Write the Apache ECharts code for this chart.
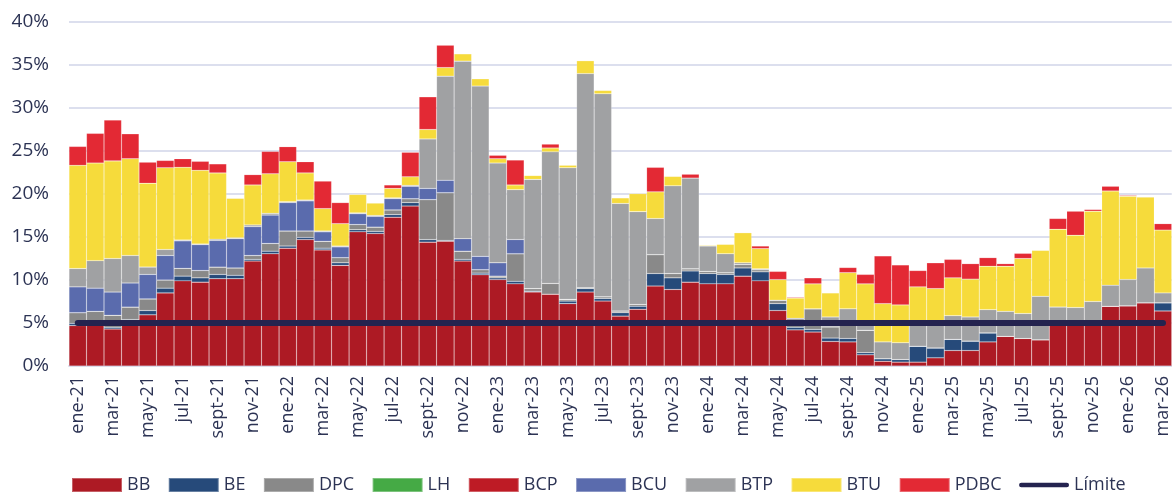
<!DOCTYPE html>
<html>
<head>
<meta charset="utf-8">
<script src="https://cdn.jsdelivr.net/npm/echarts@6/dist/echarts.min.js"></script>
<style>
html,body{margin:0;padding:0;background:#fff;}
#chart{width:1172px;height:493px;}
</style>
</head>
<body>
<div id="chart"></div>
<script>
// Categories (monthly, ene-21 .. mar-26)
const monthNames = ['ene','feb','mar','abr','may','jun','jul','ago','sept','oct','nov','dic'];
const years = ['21','22','23','24','25','26'];
const categories = [];
for (const y of years) { for (const m of monthNames) { categories.push(m + '-' + y); } }
categories.length = 63;

// Series values (% )
const BB = [4.7,4.85,4.3,5.2,5.95,8.5,9.9,9.75,10.15,10.15,12.2,13.05,
  13.7,14.7,13.5,11.7,15.6,15.4,17.3,18.6,14.4,14.5,12.2,10.6,
  10.05,9.55,8.6,8.35,7.25,8.6,7.55,5.8,6.6,9.3,8.9,9.75,
  9.55,9.55,10.45,9.9,6.45,4.2,3.95,2.85,2.8,1.3,0.55,0.45,
  0.45,0.95,1.8,1.8,2.8,3.45,3.2,3.05,5.0,5.0,5.0,6.95,
  7.0,7.35,6.4];
const BE = [0.25,0.15,0.2,0.2,0.5,0.55,0.55,0.5,0.5,0.4,0.2,0.3,
  0.25,0.25,0.2,0.3,0.25,0.25,0.3,0.4,0.3,0.1,0.2,0.2,
  0.2,0.3,0.1,0,0.3,0.4,0.3,0.4,0.35,1.45,1.35,1.3,
  1.2,1.1,0.95,1.05,0.8,0.3,0.3,0.4,0.4,0.25,0.3,0.3,
  1.85,1.15,1.3,1.1,1.05,0,0,0,0,0,0,0,
  0,0,0.95];
const DPC = [1.25,1.35,1.4,1.45,1.35,0.95,0.9,0.85,0.85,0.85,0.45,0.9,
  1.75,0.75,0.8,0.6,0.6,0.5,0.55,0.45,4.65,5.55,0.95,0.4,
  0.2,3.2,0.3,1.25,0.2,0.1,0.2,0.2,0.2,2.2,0.5,0.25,
  0.25,0.2,0.4,0.25,0.4,0.7,2.4,1.3,1.8,2.6,0,0,
  0,0,0,0,0,0,0,0,0,0,0,0,
  0,0,0];
const LH = [0,0,0,0,0,0,0,0,0,0,0,0,
  0,0,0,0,0,0,0,0,0,0,0,0,
  0,0,0,0,0,0,0,0,0,0,0,0,
  0,0,0,0,0,0,0,0,0,0,0,0,
  0,0,0,0,0,0,0,0,0,0,0,0,
  0,0,0];
const BCP = [0,0,0,0,0,0,0,0,0,0,0,0,
  0,0,0,0,0,0,0,0,0,0,0,0,
  0,0,0,0,0,0,0,0,0,0,0,0,
  0,0,0,0,0,0,0,0,0,0,0,0,
  0,0,0,0,0,0,0,0,0,0,0,0,
  0,0,0];
const BCU = [3.0,2.7,2.7,2.8,2.85,2.85,3.2,3.0,3.1,3.4,3.35,3.3,
  3.3,3.5,1.1,1.25,1.25,1.25,1.3,1.45,1.3,1.45,1.45,1.55,
  1.55,1.65,0,0,0,0,0,0,0,0,0,0,
  0,0,0,0,0,0,0,0,0,0,0,0,
  0,0,0,0,0,0,0,0,0,0,0,0,
  0,0,0];
const BTP = [2.13,3.2,3.9,3.2,0.85,0.7,0.1,0.1,0.15,0.1,0.2,0.2,
  0.1,0.1,0.1,0.1,0.1,0.1,0.1,0.1,5.75,12.1,20.65,19.8,
  11.6,5.8,12.7,15.3,15.3,24.9,23.6,12.5,10.8,4.2,10.2,10.55,
  2.95,2.2,0.2,0.1,0,0.35,0,1.15,1.65,1.1,1.95,1.95,
  2.7,2.9,2.75,2.8,2.7,2.9,2.9,5.05,1.85,1.8,2.5,2.45,
  3.05,4.05,1.15];
const BTU = [12.0,11.35,11.35,11.25,9.75,9.5,8.45,8.55,7.7,4.6,4.65,4.6,
  4.65,3.15,2.6,2.6,2.15,1.45,1.1,1.0,1.1,1.0,0.85,0.85,
  0.5,0.55,0.45,0.45,0.3,1.5,0.4,0.65,2.1,3.1,1.1,0,
  0.1,1.1,3.5,2.35,2.4,2.35,2.9,2.8,4.2,4.3,4.45,4.4,
  4.2,4.0,4.4,4.4,5.05,5.25,6.4,5.35,9.05,8.4,10.5,10.95,
  9.7,8.25,7.3];
const PDBC = [2.2,3.45,4.75,2.9,2.45,0.85,1.0,1.05,1.05,0,1.2,2.6,
  1.75,1.3,3.2,2.45,0,0,0.4,2.85,3.8,2.6,0,0,
  0.4,2.9,0,0.45,0,0,0,0,0,2.85,0,0.45,
  0,0,0,0.3,0.95,0.1,0.7,0,0.6,1.1,5.55,4.65,
  1.9,3.0,2.15,1.8,1.0,0.3,0.6,0,1.25,2.8,0.2,0.55,
  0.1,0,0.75];
const limite = categories.map(() => 5);

const yTicks = [0,5,10,15,20,25,30,35,40];

const navy = '#2C3354';
const font = 'Open Sans';
const barDefs = [
  ['BB', BB, '#AD1A24'],
  ['BE', BE, '#264A7A'],
  ['DPC', DPC, '#898989'],
  ['LH', LH, '#45AA45'],
  ['BCP', BCP, '#BE1B25'],
  ['BCU', BCU, '#5A6BAD'],
  ['BTP', BTP, '#A0A1A3'],
  ['BTU', BTU, '#F6DB3B'],
  ['PDBC', PDBC, '#E32934']
];

const series = barDefs.map(([name, data, color]) => ({
  name, type: 'bar', stack: 'total', data,
  barCategoryGap: '0%',
  itemStyle: { color, borderColor: 'rgba(255,255,255,0.3)', borderWidth: 0.5 },
  emphasis: { disabled: true }
}));
series.push({
  name: 'Límite', type: 'line', data: limite, symbol: 'none', z: 10,
  lineStyle: { color: '#24234F', width: 6, cap: 'round' },
  itemStyle: { color: '#24234F' },
  emphasis: { disabled: true }
});

const legendData = barDefs.map(d => ({ name: d[0], icon: 'rect' }));
legendData.push({ name: 'Límite', icon: 'path://M2.5,0 L51.5,0 A2.5,2.5 0 0 1 51.5,5 L2.5,5 A2.5,2.5 0 0 1 2.5,0 Z' });

const chart = echarts.init(document.getElementById('chart'), null, { renderer: 'canvas' });
chart.setOption({
  animation: false,
  backgroundColor: '#ffffff',
  textStyle: { fontFamily: font },
  grid: { left: 69, right: 0, top: 22, bottom: 127, containLabel: false },
  legend: {
    data: legendData,
    left: 71, top: 476, padding: 0,
    itemWidth: 50, itemHeight: 14, itemGap: 17.5,
    textStyle: { color: navy, fontSize: 18, fontFamily: font },
    selectedMode: false
  },
  xAxis: {
    type: 'category', data: categories, boundaryGap: true,
    axisLine: { lineStyle: { color: '#D9DCEC', width: 2 } },
    axisTick: { interval: 1, length: 6, lineStyle: { color: '#D9DCEC', width: 2 } },
    axisLabel: { interval: 1, rotate: 90, color: navy, fontSize: 18, fontFamily: font, margin: 10 }
  },
  yAxis: {
    type: 'value', min: yTicks[0], max: yTicks[yTicks.length - 1], interval: 5,
    axisLine: { show: false }, axisTick: { show: false },
    axisLabel: { formatter: '{value}%', color: navy, fontSize: 19, fontFamily: font, margin: 20 },
    splitLine: { lineStyle: { color: '#DCDFEE', width: 2 } }
  },
  series
});
</script>
</body>
</html>
